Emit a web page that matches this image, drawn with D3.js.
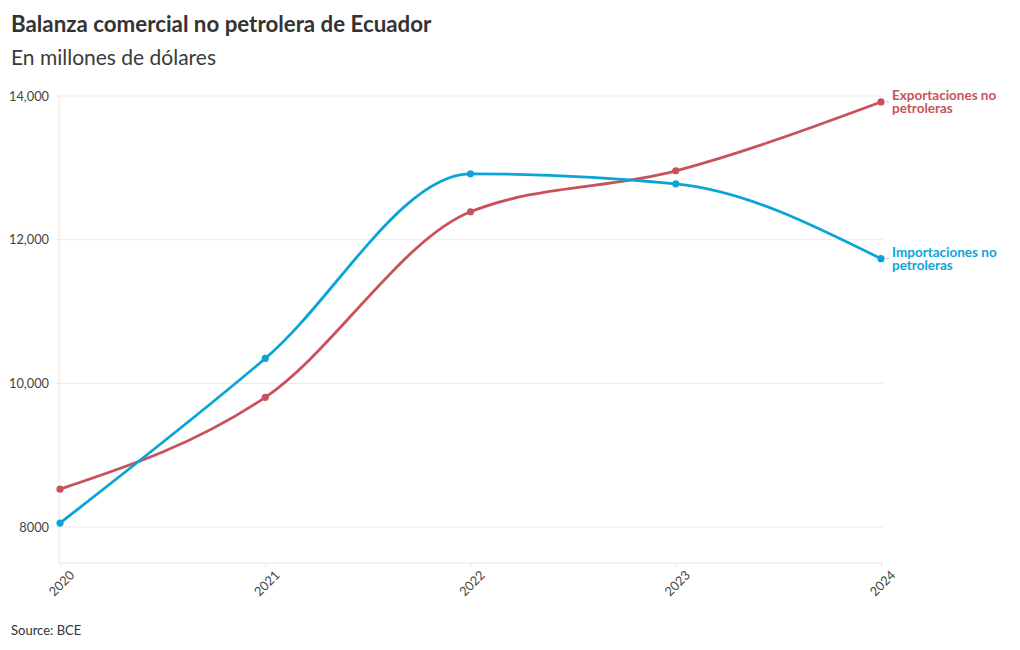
<!DOCTYPE html>
<html>
<head>
<meta charset="utf-8">
<script src="https://cdn.jsdelivr.net/npm/d3@7"></script>
<style>
  body { margin: 0; background: #fff; font-family: Lato, "Noto Sans", sans-serif; }
  svg text { font-family: Lato, "Noto Sans", sans-serif; }
</style>
</head>
<body>
<div id="chart"></div>
<script>
const years = [2020, 2021, 2022, 2023, 2024];
const exportaciones = [8528, 9806, 12389, 12958, 13917];
const importaciones = [8056, 10347, 12917, 12778, 11736];
const yTicks = [8000, 10000, 12000, 14000];

const series = [
  { name: ['Exportaciones no', 'petroleras'], values: exportaciones, color: '#c9525a' },
  { name: ['Importaciones no', 'petroleras'], values: importaciones, color: '#0ba4d8' },
];

const width = 1020;
const height = 650;
const margin = { top: 96, right: 139, bottom: 87, left: 60 };

const svg = d3.select('#chart').append('svg')
  .attr('width', width)
  .attr('height', height);

svg.append('text')
  .attr('x', 11).attr('y', 32)
  .attr('fill', '#333')
  .attr('font-size', 22.3)
  .attr('font-weight', 700)
  .text('Balanza comercial no petrolera de Ecuador');

svg.append('text')
  .attr('x', 11).attr('y', 65)
  .attr('fill', '#3a3a3a')
  .attr('font-size', 21)
  .text('En millones de dólares');

svg.append('text')
  .attr('x', 11).attr('y', 635)
  .attr('fill', '#333')
  .attr('font-size', 13)
  .text('Source: BCE');

const x = d3.scaleLinear()
  .domain(d3.extent(years))
  .range([margin.left, width - margin.right]);

const y = d3.scaleLinear()
  .domain([7500, 14000])
  .range([height - margin.bottom, margin.top]);

// grid
svg.append('g')
  .selectAll('line')
  .data(yTicks)
  .join('line')
  .attr('x1', margin.left - 4)
  .attr('x2', width - margin.right + 2)
  .attr('y1', d => y(d))
  .attr('y2', d => y(d))
  .attr('stroke', '#ebebeb');

svg.append('line')
  .attr('x1', margin.left - 1).attr('x2', margin.left - 1)
  .attr('y1', margin.top).attr('y2', height - margin.bottom)
  .attr('stroke', '#e6e6e6');

svg.append('line')
  .attr('x1', margin.left - 1).attr('x2', width - margin.right + 2)
  .attr('y1', height - margin.bottom).attr('y2', height - margin.bottom)
  .attr('stroke', '#e6e6e6');

svg.append('g')
  .selectAll('text')
  .data(yTicks)
  .join('text')
  .attr('x', margin.left - 11)
  .attr('y', d => y(d) + 4.5)
  .attr('text-anchor', 'end')
  .attr('fill', '#444')
  .attr('font-size', 12.8)
  .text(d => d >= 10000 ? d3.format(',')(d) : String(d));

// x axis
const xAxis = svg.append('g')
  .attr('transform', `translate(0,${height - margin.bottom})`)
  .call(d3.axisBottom(x).tickValues(years).tickFormat(d3.format('d')).tickSize(4).tickPadding(6));
xAxis.select('.domain').remove();
xAxis.selectAll('.tick line').attr('stroke', '#e6e6e6');
xAxis.selectAll('.tick text')
  .attr('fill', '#444')
  .attr('font-size', 12.8)
  .attr('text-anchor', 'end')
  .attr('dx', '0.1em')
  .attr('dy', '0.75em')
  .attr('transform', 'rotate(-45)');

const line = d3.line()
  .x((d, i) => x(years[i]))
  .y(d => y(d))
  .curve(d3.curveMonotoneX);

series.forEach(s => {
  svg.append('path')
    .datum(s.values)
    .attr('fill', 'none')
    .attr('stroke', s.color)
    .attr('stroke-width', 2.8)
    .attr('d', line);

  svg.append('g')
    .selectAll('circle')
    .data(s.values)
    .join('circle')
    .attr('cx', (d, i) => x(years[i]))
    .attr('cy', d => y(d))
    .attr('r', 3.6)
    .attr('fill', s.color);

  const last = s.values[s.values.length - 1];
  const lx = x(years[years.length - 1]);
  svg.append('line')
    .attr('x1', lx + 5).attr('x2', lx + 8)
    .attr('y1', y(last)).attr('y2', y(last))
    .attr('stroke', '#bbb');

  const label = svg.append('text')
    .attr('x', lx + 11)
    .attr('y', y(last) - 2)
    .attr('fill', s.color)
    .attr('font-size', 13.5)
    .attr('font-weight', 700);
  s.name.forEach((t, i) => {
    label.append('tspan')
      .attr('x', lx + 11)
      .attr('dy', i === 0 ? 0 : 13)
      .text(t);
  });
});
</script>
</body>
</html>
